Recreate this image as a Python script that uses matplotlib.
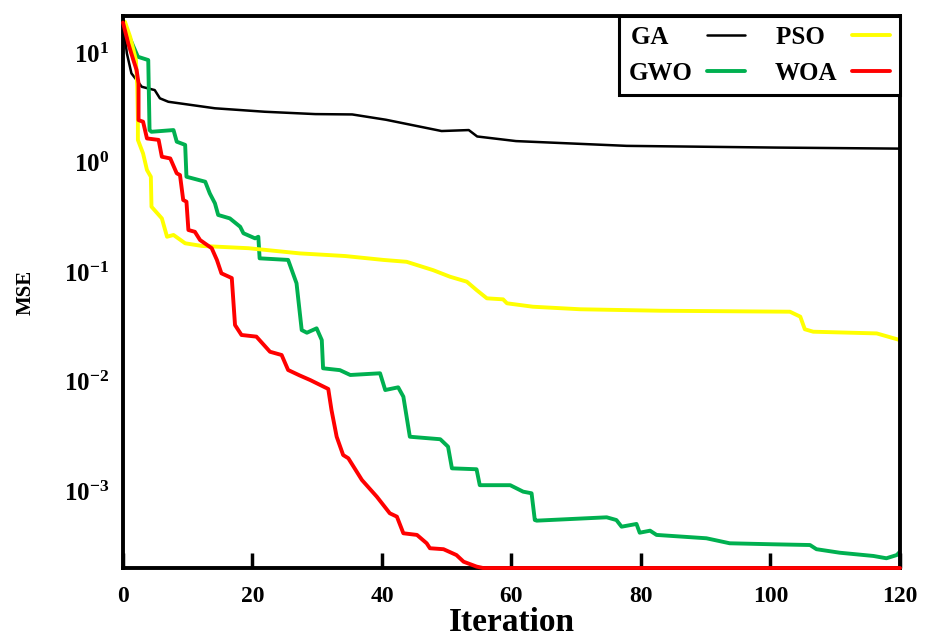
#!/usr/bin/env python3
import numpy as np
import matplotlib
matplotlib.use('Agg')
import matplotlib.pyplot as plt

'''
Convergence curves (MSE vs iteration) for GA, PSO, GWO and WOA
'''

ga_x = [0, 0.6, 1.3, 2.9, 4.9, 5.7, 7.0, 14.2, 21.9, 29.7, 35.4, 40.6, 49.2,
        53.4, 54.7, 60.7, 77.8, 100.8, 120]
ga_y = [19.0, 9.94, 6.53, 4.92, 4.59, 3.86, 3.59, 3.13, 2.91, 2.77, 2.75, 2.46, 1.94,
        1.98, 1.73, 1.57, 1.42, 1.37, 1.34]

pso_x = [0, 0.3, 1.1, 2.0, 2.2, 2.3, 2.3, 3.1, 3.7, 4.3, 4.4, 6.0, 6.8, 7.8, 9.6,
         12.2, 19.4, 27.3, 34.3, 40.2, 43.8, 47.9, 50.5, 53.1, 54.6, 56.2, 58.7,
         59.3, 63.3, 70.6, 82.9, 103.0, 104.6, 105.3, 106.6, 116.4, 120]
pso_y = [19.0, 19.3, 14.1, 8.63, 4.92, 2.44, 1.61, 1.21, 0.855, 0.742, 0.395, 0.309,
         0.210, 0.218, 0.183, 0.173, 0.165, 0.148, 0.140, 0.129, 0.124, 0.104,
         0.0906, 0.0816, 0.0685, 0.0575, 0.0563, 0.0518, 0.0482, 0.0457, 0.0443,
         0.0434, 0.0391, 0.0300, 0.0285, 0.0275, 0.0239]

gwo_x = [0, 2.3, 3.9, 4.1, 4.4, 7.8, 8.3, 9.6, 9.8, 12.7, 13.4, 14.2, 14.7, 16.5,
         18.1, 18.6, 20.4, 20.9, 21.1, 25.5, 26.8, 27.6, 28.4, 29.9, 30.7, 30.9,
         33.5, 35.1, 39.7, 40.5, 42.5, 43.3, 44.3, 49.0, 50.2, 50.8, 54.6, 55.1,
         59.8, 61.8, 63.1, 63.6, 63.9, 74.7, 76.2, 77.0, 79.3, 79.8, 81.4, 82.4,
         90.1, 93.7, 100.4, 106.1, 107.1, 110.7, 115.9, 117.9, 119.5, 120]
gwo_y = [19.0, 9.25, 8.63, 1.98, 1.91, 1.98, 1.55, 1.45, 0.742, 0.668, 0.523, 0.424,
         0.332, 0.309, 0.259, 0.226, 0.203, 0.210, 0.1334, 0.129, 0.0789, 0.0295,
         0.0279, 0.0306, 0.0239, 0.0132, 0.0127, 0.01147, 0.01189, 0.00836,
         0.00885, 0.00727, 0.00313, 0.00297, 0.00254, 0.00161, 0.00158, 0.00113,
         0.00113, 0.000986, 0.000953, 0.000543, 0.000536, 0.000575, 0.000543,
         0.000472, 0.000500, 0.000416, 0.000434, 0.000397, 0.000370, 0.000333,
         0.000326, 0.000321, 0.000294, 0.000273, 0.000255, 0.000243, 0.000260,
         0.000279]

woa_x = [0, 0.8, 1.6, 2.1, 2.4, 2.4, 3.1, 3.7, 5.5, 6.0, 7.3, 8.3, 8.8, 9.3, 9.8,
         10.1, 11.1, 11.9, 13.7, 14.5, 15.2, 16.8, 17.3, 18.3, 20.6, 22.7, 24.5,
         25.5, 27.3, 28.9, 31.7, 32.2, 33.0, 34.0, 34.8, 36.9, 39.2, 41.2, 42.3,
         43.3, 45.4, 46.9, 47.4, 49.5, 51.5, 52.6, 54.6, 55.6, 120]
woa_y = [19.0, 12.3, 8.63, 7.0, 5.29, 2.44, 2.36, 1.66, 1.61, 1.13, 1.09, 0.797,
         0.769, 0.455, 0.439, 0.242, 0.233, 0.196, 0.165, 0.129, 0.0973, 0.0881,
         0.0328, 0.0266, 0.0257, 0.0187, 0.01746, 0.01274, 0.01135, 0.01032,
         0.00855, 0.00549, 0.00313, 0.00213, 0.00199, 0.00126, 0.000887,
         0.000626, 0.000583, 0.000411, 0.000397, 0.000333, 0.000300, 0.000294,
         0.000260, 0.000226, 0.000204, 0.000198, 0.000198]

x_ticks = [0, 20, 40, 60, 80, 100, 120]
y_ticks = [1e1, 1e0, 1e-1, 1e-2, 1e-3]
y_labels = ['$10^{1}$', '$10^{0}$', '$10^{-1}$', '$10^{-2}$', '$10^{-3}$']


def main():
    plt.rcParams['font.family'] = 'Liberation Serif'
    plt.rcParams['font.weight'] = 'bold'
    plt.rcParams['mathtext.fontset'] = 'custom'
    plt.rcParams['mathtext.rm'] = 'Liberation Serif:bold'
    plt.rcParams['mathtext.it'] = 'Liberation Serif:bold:italic'
    plt.rcParams['mathtext.bf'] = 'Liberation Serif:bold'

    fig = plt.figure(figsize=(9.28, 6.42), dpi=100)
    ax = fig.add_axes([123 / 928, 74 / 642, 777 / 928, 552 / 642])

    style = dict(solid_joinstyle='round', solid_capstyle='round')
    # plotted in legend order (legend fills column by column)
    ax.plot(ga_x, ga_y, color='black', lw=1.8, label='GA', **style)
    ax.plot(gwo_x, gwo_y, color='#00B050', lw=2.8, label='GWO', **style)
    ax.plot(pso_x, pso_y, color='#FFFF00', lw=2.8, label='PSO', **style)
    ax.plot(woa_x, woa_y, color='#FF0000', lw=2.8, label='WOA',
            clip_on=False, zorder=3, **style)

    ax.set_yscale('log')
    ax.set_xlim(0, 120)
    ax.set_ylim(1.98e-4, 21.8)

    ax.set_xticks(x_ticks)
    ax.set_yticks(y_ticks)
    ax.set_yticklabels(y_labels)
    ax.yaxis.set_minor_locator(matplotlib.ticker.NullLocator())
    ax.tick_params(axis='x', direction='in', length=11, width=2.5,
                   labelsize=17, pad=13, top=False)
    ax.tick_params(axis='y', length=0, labelsize=18, pad=10)

    for sp in ax.spines.values():
        sp.set_linewidth(2.8)

    ax.set_xlabel('Iteration', fontsize=24, fontweight='bold', labelpad=0)
    ax.set_ylabel('MSE', fontsize=15, fontweight='bold', labelpad=20)

    # pad labels so the text sits left-aligned in front of the handles
    handles, labels = ax.get_legend_handles_labels()
    labels = ['GA    ', 'GWO', 'PSO  ', 'WOA']
    leg = ax.legend(handles, labels, ncol=2, loc='upper right', markerfirst=False,
                    fontsize=18, frameon=True, fancybox=False, borderaxespad=0,
                    handlelength=1.5, handletextpad=0.6, columnspacing=1.2,
                    labelspacing=0.5, borderpad=0.4)
    leg.get_frame().set_edgecolor('black')
    leg.get_frame().set_linewidth(2.2)
    leg.get_frame().set_alpha(1)

    fig.savefig('out.png', dpi=100)


if __name__ == "__main__":
    main()
